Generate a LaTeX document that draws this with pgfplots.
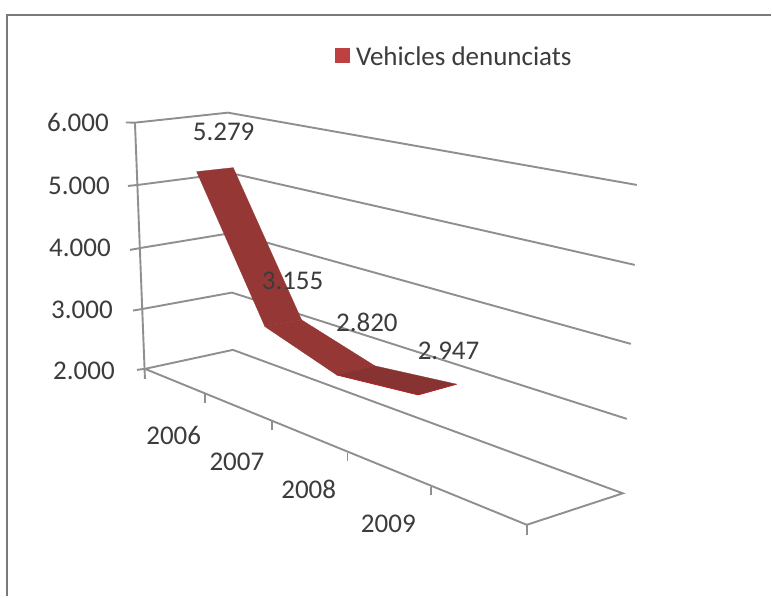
\documentclass[border=0pt]{standalone}
\usepackage{fontspec}
\setmainfont{Carlito}
\usepackage{pgfplots}
\pgfplotsset{compat=1.18}
\definecolor{gridc}{HTML}{8F8F8F}
\definecolor{txt}{HTML}{3C3C3C}
\definecolor{rib}{HTML}{953735}
\definecolor{ribd}{HTML}{873331}
\definecolor{leg}{HTML}{BE4040}
\tikzset{lbl/.style={text=txt, font=\fontsize{27}{30}\selectfont, inner sep=0pt}}
\begin{document}
\begin{tikzpicture}
\begin{axis}[
  at={(0,0)}, anchor=south west,
  width=772pt, height=597pt, scale only axis,
  xmin=0, xmax=772, ymin=0, ymax=597, y dir=reverse,
  axis lines=none, clip=false,
]
% page extent
\addplot[fill=white, draw=none, forget plot] coordinates {(0,0) (772,0) (772,597) (0,597)} -- cycle;
% frame
\addplot[gridc!85!black, line width=2.6pt, forget plot] coordinates {(771,15) (7,15) (7,596)};
% back wall and gridlines
\addplot[gridc, line width=1.9pt, forget plot] coordinates {(126,122.5) (135,122.7) (228,112.7) (637,185)};
\addplot[gridc, line width=1.9pt, forget plot] coordinates {(128,186) (138,185) (230,173) (635,265)};
\addplot[gridc, line width=1.9pt, forget plot] coordinates {(130,250) (141,248) (232,233) (631,344)};
\addplot[gridc, line width=1.9pt, forget plot] coordinates {(133,310.7) (143,309) (232,292.7) (627,419)};
% floor
\addplot[gridc, line width=1.9pt, forget plot] coordinates {(137,370) (145,369) (233,350) (623,493.5) (527,525) (145,369)};
% value axis
\addplot[gridc, line width=1.9pt, forget plot] coordinates {(135,122.7) (145,379)};
% category ticks
\addplot[gridc, line width=1.6pt, forget plot] coordinates {(205,394) (205,403)};
\addplot[gridc, line width=1.6pt, forget plot] coordinates {(272.3,421) (272.3,430)};
\addplot[gridc, line width=1.6pt, forget plot] coordinates {(347.7,453) (347.7,461)};
\addplot[gridc, line width=1.6pt, forget plot] coordinates {(431,487) (431,495)};
\addplot[gridc, line width=1.6pt, forget plot] coordinates {(527,525) (527,535)};
% ribbon
\addplot[fill=rib, draw=rib, line width=0.3pt, forget plot] coordinates {(196.7,171.7) (233.3,167.7) (301.7,320) (265,326.7)} -- cycle;
\addplot[fill=rib, draw=rib, line width=0.3pt, forget plot] coordinates {(265,326.7) (301.7,320) (375,366) (336.7,375)} -- cycle;
\addplot[fill=ribd, draw=ribd, line width=0.3pt, forget plot] coordinates {(336.7,375) (375,366) (456.7,384.3) (418.3,395)} -- cycle;
\addplot[red!35!rib, line width=0.8pt, forget plot] coordinates {(336.7,375) (418.3,395) (456.7,384.3)};
% legend swatch
\addplot[fill=leg, draw=none, forget plot] coordinates {(335,48) (350,48) (350,63) (335,63)} -- cycle;
% labels
\node[lbl, anchor=west] at (axis cs:356,56) {Vehicles denunciats};
\node[lbl] at (axis cs:78,122.5) {6.000};
\node[lbl] at (axis cs:79,186) {5.000};
\node[lbl] at (axis cs:80,248) {4.000};
\node[lbl] at (axis cs:82,310) {3.000};
\node[lbl] at (axis cs:84,371) {2.000};
\node[lbl] at (axis cs:223.7,132) {5.279};
\node[lbl] at (axis cs:292.7,281) {3.155};
\node[lbl] at (axis cs:367,323) {2.820};
\node[lbl] at (axis cs:448.7,351) {2.947};
\node[lbl] at (axis cs:173.8,436) {2006};
\node[lbl] at (axis cs:237,462) {2007};
\node[lbl] at (axis cs:308.8,490) {2008};
\node[lbl] at (axis cs:388.5,524) {2009};
\end{axis}
\end{tikzpicture}
\end{document}
